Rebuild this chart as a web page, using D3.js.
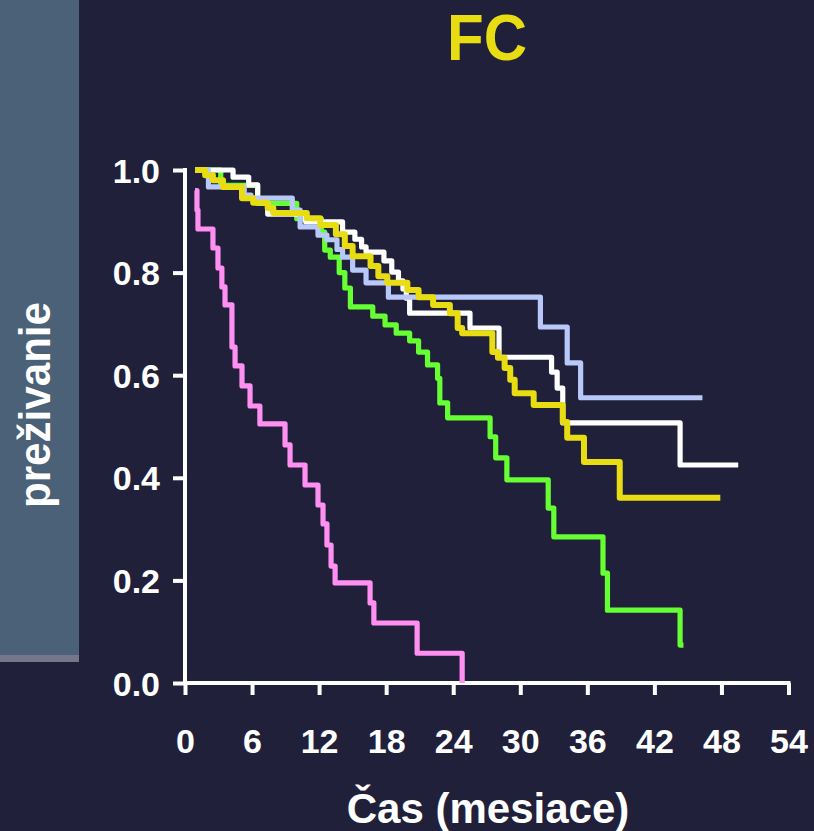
<!DOCTYPE html>
<html><head><meta charset="utf-8">
<script src="https://cdn.jsdelivr.net/npm/d3@7"></script>
<style>html,body{margin:0;padding:0;background:#21203b;}svg{display:block;}</style>
</head><body>
<script>
// ---- data (months, survival) ----
const xTicks = [0, 6, 12, 18, 24, 30, 36, 42, 48, 54];
const yTicks = [0.0, 0.2, 0.4, 0.6, 0.8, 1.0];

const pinkT = [0.9, 1.07, 1.16, 2.5, 2.95, 3.3, 3.58, 4.2, 4.48, 5.1, 5.82, 6.7, 8.95, 9.4, 10.74, 11.9, 12.35, 12.7, 13.07, 13.43, 16.56, 16.9, 20.77, 24.8];
const pinkS = [0.96, 0.922, 0.885, 0.848, 0.809, 0.772, 0.737, 0.655, 0.618, 0.579, 0.540, 0.505, 0.464, 0.425, 0.386, 0.347, 0.31, 0.269, 0.228, 0.195, 0.156, 0.117, 0.058, 0.0];

const greenT = [0.9, 3.2, 6.5, 10.0, 12.2, 12.5, 13.0, 13.8, 14.3, 14.8, 16.8, 17.9, 18.9, 20.1, 20.9, 21.7, 22.6, 22.8, 23.5, 27.3, 27.8, 28.8, 32.5, 33.0, 37.4, 37.8, 44.3, 44.6];
const greenS = [1.0, 0.97, 0.935, 0.905, 0.879, 0.844, 0.83, 0.80, 0.77, 0.733, 0.715, 0.698, 0.682, 0.667, 0.645, 0.62, 0.594, 0.546, 0.517, 0.48, 0.439, 0.396, 0.341, 0.285, 0.214, 0.142, 0.074, 0.074];

const whiteT = [0.9, 4.3, 5.7, 6.5, 7.4, 10.8, 14.1, 15.2, 15.8, 16.2, 17.8, 18.5, 19.1, 19.5, 19.8, 20.1, 25.5, 28.1, 32.8, 33.3, 33.8, 44.3, 49.5];
const whiteS = [1.0, 0.986, 0.971, 0.936, 0.914, 0.899, 0.879, 0.865, 0.850, 0.840, 0.823, 0.801, 0.784, 0.768, 0.750, 0.721, 0.692, 0.635, 0.606, 0.575, 0.507, 0.425, 0.425];

const blueT = [0.9, 2.1, 5.3, 5.9, 9.6, 10.3, 11.9, 12.7, 13.6, 14.1, 15.0, 16.2, 18.2, 31.8, 34.2, 35.4, 46.3];
const blueS = [1.0, 0.967, 0.951, 0.945, 0.922, 0.889, 0.873, 0.864, 0.845, 0.830, 0.805, 0.780, 0.752, 0.694, 0.624, 0.556, 0.556];

const yellowT = [0.9, 1.8, 2.5, 3.4, 5.1, 6.1, 7.4, 7.9, 10.9, 12.1, 13.5, 14.3, 15.0, 16.6, 17.3, 18.1, 19.9, 20.9, 22.2, 23.7, 24.4, 24.8, 27.5, 28.0, 28.6, 29.1, 29.5, 31.2, 33.8, 34.2, 35.7, 38.9, 47.9];
const yellowS = [1.0, 0.990, 0.980, 0.967, 0.945, 0.936, 0.926, 0.916, 0.906, 0.893, 0.875, 0.852, 0.832, 0.813, 0.793, 0.780, 0.766, 0.752, 0.737, 0.721, 0.692, 0.682, 0.645, 0.634, 0.614, 0.591, 0.565, 0.542, 0.509, 0.478, 0.431, 0.361, 0.361];

const series = [
  {t: pinkT, s: pinkS, color: "#ff90f2", w: 5.2},
  {t: greenT, s: greenS, color: "#66ff33", w: 5.2},
  {t: whiteT, s: whiteS, color: "#ffffff", w: 5.2},
  {t: blueT, s: blueS, color: "#b8c8f8", w: 5.2},
  {t: yellowT, s: yellowS, color: "#e8dc12", w: 6}
];

const W = 814, H = 831;
const svg = d3.select("body").append("svg").attr("width", W).attr("height", H);
svg.append("rect").attr("width", W).attr("height", H).attr("fill", "#21203b");

// left panel
svg.append("rect").attr("x", 0).attr("y", 0).attr("width", 79).attr("height", 655).attr("fill", "#4a6177");
svg.append("rect").attr("x", 0).attr("y", 655).attr("width", 79).attr("height", 7).attr("fill", "#76768a");
svg.append("text")
  .attr("transform", "translate(50,405) rotate(-90)")
  .attr("text-anchor", "middle")
  .attr("font-family", "'Liberation Sans Narrow', 'Liberation Sans', Arial, sans-serif")
  .attr("font-weight", "bold")
  .attr("font-size", 44)
  .attr("fill", "#ffffff")
  .attr("textLength", 206)
  .attr("lengthAdjust", "spacingAndGlyphs")
  .text("preživanie");

// title
svg.append("text")
  .attr("x", 487).attr("y", 60)
  .attr("text-anchor", "middle")
  .attr("font-family", "'Liberation Sans', Arial, sans-serif")
  .attr("font-weight", "bold").attr("font-size", 65)
  .attr("fill", "#e8dc12")
  .attr("textLength", 80).attr("lengthAdjust", "spacingAndGlyphs")
  .text("FC");

const x = d3.scaleLinear().domain([0, 54]).range([185, 788.5]);
const y = d3.scaleLinear().domain([0, 1]).range([683, 170]);

const font = "'Liberation Sans', Arial, sans-serif";

// axes
const yAxis = svg.append("g").attr("transform", `translate(${x(0)},0)`)
  .call(d3.axisLeft(y).tickValues(yTicks).tickFormat(d3.format(".1f")).tickSize(12).tickSizeOuter(0).tickPadding(13));
const xAxis = svg.append("g").attr("transform", `translate(0,${y(0)})`)
  .call(d3.axisBottom(x).tickValues(xTicks).tickFormat(d3.format("d")).tickSize(12).tickSizeOuter(0).tickPadding(0));

[yAxis, xAxis].forEach(g => {
  g.select(".domain").attr("stroke", "#ffffff").attr("stroke-width", 4);
  g.selectAll(".tick line").attr("stroke", "#ffffff").attr("stroke-width", 4);
  g.selectAll(".tick text").attr("fill", "#ffffff").attr("font-family", font)
    .attr("font-weight", "bold").attr("font-size", 34);
});
yAxis.selectAll(".tick text").attr("dy", null).attr("y", 12).attr("x", -25);
xAxis.selectAll(".tick text").attr("dy", null).attr("y", 70);
yAxis.select(".domain").attr("d", `M0,${y(1) - 2}V${y(0) + 2}`);
xAxis.select(".domain").attr("d", `M${x(0) - 2},0H${x(54) + 2}`);

// x axis title
svg.append("text")
  .attr("x", 488).attr("y", 823)
  .attr("text-anchor", "middle")
  .attr("font-family", font).attr("font-weight", "bold").attr("font-size", 42)
  .attr("fill", "#ffffff")
  .text("Čas (mesiace)");

// curves
const line = d3.line().x(d => x(d[0])).y(d => y(d[1])).curve(d3.curveStepAfter);
series.forEach(sr => {
  const pts = sr.t.map((t, i) => [t, sr.s[i]]);
  svg.append("path")
    .attr("d", line(pts))
    .attr("fill", "none")
    .attr("stroke", sr.color)
    .attr("stroke-width", sr.w)
    .attr("stroke-linejoin", "round");
});
</script>
</body></html>
